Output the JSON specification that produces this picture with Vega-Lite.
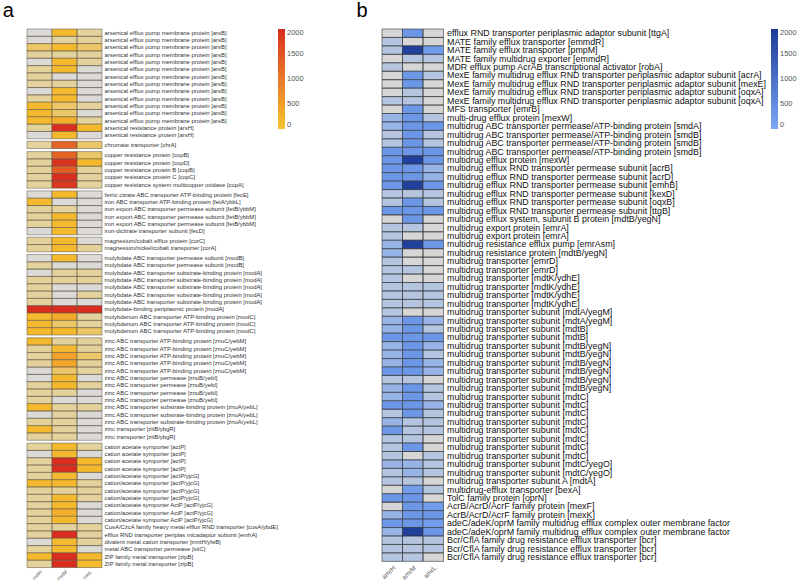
{
  "$schema": "https://vega.github.io/schema/vega-lite/v6.json",
  "padding": {"left": 2, "top": 0, "right": 0, "bottom": 0},
  "background": "white",
  "config": {
    "font": "Liberation Sans",
    "view": {"stroke": null},
    "axis": {"domain": false, "ticks": false, "grid": false, "title": null, "labelOverlap": false, "labelLimit": 400},
    "title": {"font": "Liberation Sans", "fontWeight": "normal", "fontSize": 20, "anchor": "start", "color": "#000"}
  },
  "datasets": {
    "a": [
      {"g":"ars","k":"01|arsenical efflux pump membrane protein [arsB]","metH":0,"metM":150,"metL":40},
      {"g":"ars","k":"02|arsenical efflux pump membrane protein [arsB]","metH":0,"metM":40,"metL":40},
      {"g":"ars","k":"03|arsenical efflux pump membrane protein [arsB]","metH":100,"metM":150,"metL":100},
      {"g":"ars","k":"04|arsenical efflux pump membrane protein [arsB]","metH":40,"metM":40,"metL":40},
      {"g":"ars","k":"05|arsenical efflux pump membrane protein [arsB]","metH":0,"metM":150,"metL":40},
      {"g":"ars","k":"06|arsenical efflux pump membrane protein [arsB]","metH":40,"metM":150,"metL":0},
      {"g":"ars","k":"07|arsenical efflux pump membrane protein [arsB]","metH":40,"metM":0,"metL":0},
      {"g":"ars","k":"08|arsenical efflux pump membrane protein [arsB]","metH":40,"metM":40,"metL":0},
      {"g":"ars","k":"09|arsenical efflux pump membrane protein [arsB]","metH":0,"metM":150,"metL":0},
      {"g":"ars","k":"10|arsenical efflux pump membrane protein [arsB]","metH":40,"metM":150,"metL":0},
      {"g":"ars","k":"11|arsenical efflux pump membrane protein [arsB]","metH":150,"metM":100,"metL":40},
      {"g":"ars","k":"12|arsenical efflux pump membrane protein [arsB]","metH":150,"metM":100,"metL":0},
      {"g":"ars","k":"13|arsenical efflux pump membrane protein [arsB]","metH":150,"metM":300,"metL":40},
      {"g":"ars","k":"14|arsenical resistance protein [arsH]","metH":40,"metM":1950,"metL":150},
      {"g":"ars","k":"15|arsenical resistance protein [arsH]","metH":0,"metM":150,"metL":0},
      {"g":"chr","k":"16|chromate transporter [chrA]","metH":40,"metM":1300,"metL":100},
      {"g":"cop","k":"17|copper resistance protein [copB]","metH":40,"metM":1300,"metL":100},
      {"g":"cop","k":"18|copper resistance protein [copD]","metH":40,"metM":1900,"metL":150},
      {"g":"cop","k":"19|copper resistance protein B [copB]","metH":40,"metM":1400,"metL":40},
      {"g":"cop","k":"20|copper resistance protein C [copC]","metH":40,"metM":1950,"metL":40},
      {"g":"cop","k":"21|copper resistance system multicopper oxidase [copA]","metH":40,"metM":1850,"metL":40},
      {"g":"fe","k":"22|ferric citrate ABC transporter ATP-binding protein [fecE]","metH":0,"metM":150,"metL":0},
      {"g":"fe","k":"23|iron ABC transporter ATP-binding protein [fetA/ybbL]","metH":150,"metM":0,"metL":0},
      {"g":"fe","k":"24|iron export ABC transporter permease subunit [fetB/ybbM]","metH":40,"metM":40,"metL":0},
      {"g":"fe","k":"25|iron export ABC transporter permease subunit [fetB/ybbM]","metH":40,"metM":150,"metL":0},
      {"g":"fe","k":"26|iron export ABC transporter permease subunit [fetB/ybbM]","metH":40,"metM":150,"metL":0},
      {"g":"fe","k":"27|iron-dicitrate transporter subunit [fecD]","metH":0,"metM":150,"metL":0},
      {"g":"mg","k":"28|magnesium/cobalt efflux protein [corC]","metH":40,"metM":150,"metL":0},
      {"g":"mg","k":"29|magnesium/nickel/cobalt transporter [corA]","metH":40,"metM":150,"metL":40},
      {"g":"mo","k":"30|molybdate ABC transporter permease subunit [modB]","metH":0,"metM":150,"metL":0},
      {"g":"mo","k":"31|molybdate ABC transporter permease subunit [modB]","metH":40,"metM":0,"metL":0},
      {"g":"mo","k":"32|molybdate ABC transporter substrate-binding protein [modA]","metH":0,"metM":40,"metL":40},
      {"g":"mo","k":"33|molybdate ABC transporter substrate-binding protein [modA]","metH":40,"metM":40,"metL":40},
      {"g":"mo","k":"34|molybdate ABC transporter substrate-binding protein [modA]","metH":40,"metM":0,"metL":0},
      {"g":"mo","k":"35|molybdate ABC transporter substrate-binding protein [modA]","metH":40,"metM":0,"metL":40},
      {"g":"mo","k":"36|molybdate ABC transporter substrate-binding protein [modA]","metH":40,"metM":0,"metL":0},
      {"g":"mo","k":"37|molybdate-binding periplasmic protein [modA]","metH":1950,"metM":1950,"metL":1950},
      {"g":"mo","k":"38|molybdenum ABC transporter ATP-binding protein [modC]","metH":150,"metM":350,"metL":40},
      {"g":"mo","k":"39|molybdenum ABC transporter ATP-binding protein [modC]","metH":150,"metM":100,"metL":40},
      {"g":"mo","k":"40|molybdenum ABC transporter ATP-binding protein [modC]","metH":150,"metM":150,"metL":100},
      {"g":"zn","k":"41|zinc ABC transporter ATP-binding protein [znuC/yebM]","metH":150,"metM":40,"metL":40},
      {"g":"zn","k":"42|zinc ABC transporter ATP-binding protein [znuC/yebM]","metH":40,"metM":150,"metL":40},
      {"g":"zn","k":"43|zinc ABC transporter ATP-binding protein [znuC/yebM]","metH":40,"metM":450,"metL":100},
      {"g":"zn","k":"44|zinc ABC transporter ATP-binding protein [znuC/yebM]","metH":40,"metM":400,"metL":40},
      {"g":"zn","k":"45|zinc ABC transporter ATP-binding protein [znuC/yebM]","metH":0,"metM":100,"metL":40},
      {"g":"zn","k":"46|zinc ABC transporter permease [znuB/yebI]","metH":0,"metM":150,"metL":0},
      {"g":"zn","k":"47|zinc ABC transporter permease [znuB/yebI]","metH":40,"metM":150,"metL":40},
      {"g":"zn","k":"48|zinc ABC transporter permease [znuB/yebI]","metH":40,"metM":40,"metL":0},
      {"g":"zn","k":"49|zinc ABC transporter permease [znuB/yebI]","metH":40,"metM":0,"metL":0},
      {"g":"zn","k":"50|zinc ABC transporter substrate-binding protein [znuA/yebL]","metH":150,"metM":40,"metL":40},
      {"g":"zn","k":"51|zinc ABC transporter substrate-binding protein [znuA/yebL]","metH":0,"metM":40,"metL":0},
      {"g":"zn","k":"52|zinc ABC transporter substrate-binding protein [znuA/yebL]","metH":40,"metM":40,"metL":0},
      {"g":"zn","k":"53|zinc transporter [zitB/ybgR]","metH":150,"metM":40,"metL":0},
      {"g":"zn","k":"54|zinc transporter [zitB/ybgR]","metH":40,"metM":40,"metL":0},
      {"g":"ot","k":"55|cation acetate symporter [actP]","metH":40,"metM":150,"metL":40},
      {"g":"ot","k":"56|cation acetate symporter [actP]","metH":0,"metM":150,"metL":0},
      {"g":"ot","k":"57|cation acetate symporter [actP]","metH":40,"metM":1950,"metL":150},
      {"g":"ot","k":"58|cation acetate symporter [actP]","metH":40,"metM":1950,"metL":150},
      {"g":"ot","k":"59|cation/acetate symporter [actP/yjcG]","metH":40,"metM":150,"metL":0},
      {"g":"ot","k":"60|cation/acetate symporter [actP/yjcG]","metH":150,"metM":150,"metL":40},
      {"g":"ot","k":"61|cation/acetate symporter [actP/yjcG]","metH":40,"metM":40,"metL":40},
      {"g":"ot","k":"62|cation/acetate symporter [actP/yjcG]","metH":40,"metM":150,"metL":40},
      {"g":"ot","k":"63|cation/acetate symporter ActP [actP/yjcG]","metH":40,"metM":150,"metL":0},
      {"g":"ot","k":"64|cation/acetate symporter ActP [actP/yjcG]","metH":40,"metM":300,"metL":0},
      {"g":"ot","k":"65|cation/acetate symporter ActP [actP/yjcG]","metH":40,"metM":150,"metL":0},
      {"g":"ot","k":"66|CusA/CzcA family heavy metal efflux RND transporter [cusA/ybdE]","metH":40,"metM":40,"metL":40},
      {"g":"ot","k":"67|efflux RND transporter periplas micadaptor subunit [emhA]","metH":40,"metM":1950,"metL":40},
      {"g":"ot","k":"68|divalent metal cation transporter [mntH/yfeB]","metH":0,"metM":150,"metL":40},
      {"g":"ot","k":"69|metal ABC transporter permease [sitC]","metH":40,"metM":150,"metL":0},
      {"g":"ot","k":"70|ZIP family metal transporter [zipB]","metH":150,"metM":1950,"metL":150},
      {"g":"ot","k":"71|ZIP family metal transporter [zipB]","metH":40,"metM":1950,"metL":150}
    ],
    "b": [
      {"k":"01|efflux RND transporter periplasmic adaptor subunit [ttgA]","amrH":0,"amrM":300,"amrL":0},
      {"k":"02|MATE family efflux transporter [emmdR]","amrH":40,"amrM":0,"amrL":0},
      {"k":"03|MATE family efflux transporter [pmpM]","amrH":40,"amrM":1900,"amrL":200},
      {"k":"04|MATE family multidrug exporter [emmdR]","amrH":0,"amrM":40,"amrL":40},
      {"k":"05|MDR efflux pump AcrAB transcriptional activator [robA]","amrH":40,"amrM":0,"amrL":0},
      {"k":"06|MexE family multidrug efflux RND transporter periplasmic adaptor subunit [acrA]","amrH":0,"amrM":300,"amrL":40},
      {"k":"07|MexE family multidrug efflux RND transporter periplasmic adaptor subunit [mexE]","amrH":0,"amrM":300,"amrL":0},
      {"k":"08|MexE family multidrug efflux RND transporter periplasmic adaptor subunit [oqxA]","amrH":0,"amrM":40,"amrL":0},
      {"k":"09|MexE family multidrug efflux RND transporter periplasmic adaptor subunit [oqxA]","amrH":40,"amrM":40,"amrL":0},
      {"k":"10|MFS transporter [emrB]","amrH":0,"amrM":300,"amrL":0},
      {"k":"11|multi-drug efflux protein [mexW]","amrH":100,"amrM":300,"amrL":40},
      {"k":"12|multidrug ABC transporter permease/ATP-binding protein [smdA]","amrH":100,"amrM":300,"amrL":300},
      {"k":"13|multidrug ABC transporter permease/ATP-binding protein [smdB]","amrH":40,"amrM":300,"amrL":40},
      {"k":"14|multidrug ABC transporter permease/ATP-binding protein [smdB]","amrH":40,"amrM":300,"amrL":40},
      {"k":"15|multidrug ABC transporter permease/ATP-binding protein [smdB]","amrH":300,"amrM":300,"amrL":300},
      {"k":"16|multidrug efflux protein [mexW]","amrH":300,"amrM":1900,"amrL":300},
      {"k":"17|multidrug efflux RND transporter permease subunit [acrB]","amrH":300,"amrM":300,"amrL":100},
      {"k":"18|multidrug efflux RND transporter permease subunit [acrD]","amrH":300,"amrM":300,"amrL":100},
      {"k":"19|multidrug efflux RND transporter permease subunit [emhB]","amrH":300,"amrM":1900,"amrL":300},
      {"k":"20|multidrug efflux RND transporter permease subunit [kexD]","amrH":40,"amrM":40,"amrL":40},
      {"k":"21|multidrug efflux RND transporter permease subunit [oqxB]","amrH":40,"amrM":300,"amrL":40},
      {"k":"22|multidrug efflux RND transporter permease subunit [ttgB]","amrH":300,"amrM":300,"amrL":300},
      {"k":"23|multidrug efflux system, subunit B protein [mdtB/yegN]","amrH":0,"amrM":300,"amrL":0},
      {"k":"24|multidrug export protein [emrA]","amrH":40,"amrM":40,"amrL":0},
      {"k":"25|multidrug export protein [emrA]","amrH":40,"amrM":0,"amrL":0},
      {"k":"26|multidrug resistance efflux pump [emrAsm]","amrH":100,"amrM":1900,"amrL":300},
      {"k":"27|multidrug resistance protein [mdtB/yegN]","amrH":100,"amrM":0,"amrL":0},
      {"k":"28|multidrug transporter [emrD]","amrH":40,"amrM":0,"amrL":0},
      {"k":"29|multidrug transporter [emrD]","amrH":40,"amrM":40,"amrL":0},
      {"k":"30|multidrug transporter [mdtK/ydhE]","amrH":40,"amrM":0,"amrL":0},
      {"k":"31|multidrug transporter [mdtK/ydhE]","amrH":40,"amrM":40,"amrL":40},
      {"k":"32|multidrug transporter [mdtK/ydhE]","amrH":40,"amrM":40,"amrL":40},
      {"k":"33|multidrug transporter [mdtK/ydhE]","amrH":40,"amrM":40,"amrL":40},
      {"k":"34|multidrug transporter subunit [mdtA/yegM]","amrH":40,"amrM":0,"amrL":0},
      {"k":"35|multidrug transporter subunit [mdtA/yegM]","amrH":100,"amrM":300,"amrL":100},
      {"k":"36|multidrug transporter subunit [mdtB]","amrH":100,"amrM":300,"amrL":40},
      {"k":"37|multidrug transporter subunit [mdtB]","amrH":300,"amrM":300,"amrL":300},
      {"k":"38|multidrug transporter subunit [mdtB/yegN]","amrH":100,"amrM":300,"amrL":100},
      {"k":"39|multidrug transporter subunit [mdtB/yegN]","amrH":100,"amrM":300,"amrL":40},
      {"k":"40|multidrug transporter subunit [mdtB/yegN]","amrH":100,"amrM":300,"amrL":100},
      {"k":"41|multidrug transporter subunit [mdtB/yegN]","amrH":300,"amrM":300,"amrL":100},
      {"k":"42|multidrug transporter subunit [mdtB/yegN]","amrH":40,"amrM":40,"amrL":0},
      {"k":"43|multidrug transporter subunit [mdtB/yegN]","amrH":100,"amrM":300,"amrL":40},
      {"k":"44|multidrug transporter subunit [mdtC]","amrH":100,"amrM":300,"amrL":40},
      {"k":"45|multidrug transporter subunit [mdtC]","amrH":300,"amrM":300,"amrL":100},
      {"k":"46|multidrug transporter subunit [mdtC]","amrH":40,"amrM":300,"amrL":40},
      {"k":"47|multidrug transporter subunit [mdtC]","amrH":100,"amrM":40,"amrL":40},
      {"k":"48|multidrug transporter subunit [mdtC]","amrH":300,"amrM":40,"amrL":40},
      {"k":"49|multidrug transporter subunit [mdtC]","amrH":40,"amrM":40,"amrL":0},
      {"k":"50|multidrug transporter subunit [mdtC]","amrH":40,"amrM":300,"amrL":0},
      {"k":"51|multidrug transporter subunit [mdtC]","amrH":40,"amrM":0,"amrL":40},
      {"k":"52|multidrug transporter subunit [mdtC/yegO]","amrH":100,"amrM":100,"amrL":40},
      {"k":"53|multidrug transporter subunit [mdtC/yegO]","amrH":40,"amrM":100,"amrL":40},
      {"k":"54|multidrug transporter subunit A [mdtA]","amrH":40,"amrM":40,"amrL":0},
      {"k":"55|multidrug-efflux transporter [bexA]","amrH":0,"amrM":200,"amrL":40},
      {"k":"56|TolC family protein [oprN]","amrH":300,"amrM":300,"amrL":0},
      {"k":"57|AcrB/AcrD/AcrF family protein [mexF]","amrH":0,"amrM":300,"amrL":200},
      {"k":"58|AcrB/AcrD/AcrF family protein [mexK]","amrH":100,"amrM":300,"amrL":300},
      {"k":"59|adeC/adeK/oprM family multidrug efflux complex outer membrane factor","amrH":300,"amrM":300,"amrL":200},
      {"k":"60|adeC/adeK/oprM family multidrug efflux complex outer membrane factor","amrH":100,"amrM":1900,"amrL":300},
      {"k":"61|Bcr/CflA family drug resistance efflux transporter [bcr]","amrH":40,"amrM":40,"amrL":40},
      {"k":"62|Bcr/CflA family drug resistance efflux transporter [bcr]","amrH":40,"amrM":40,"amrL":40},
      {"k":"63|Bcr/CflA family drug resistance efflux transporter [bcr]","amrH":40,"amrM":40,"amrL":0}
    ]
  },
  "hconcat": [
    {
      "data": {"name": "a"},
      "title": {"text": "a", "dx": -24, "offset": 8},
      "transform": [{"fold": ["metH", "metM", "metL"], "as": ["c", "v"]}],
      "facet": {"row": {"field": "g", "type": "nominal", "header": null, "sort": ["ars", "chr", "cop", "fe", "mg", "mo", "zn", "ot"]}},
      "spacing": {"row": 2.3},
      "bounds": "flush",
      "resolve": {"scale": {"y": "independent"}},
      "spec": {
        "width": 75,
        "height": {"step": 7.32},
        "encoding": {
          "x": {"field": "c", "type": "nominal", "sort": ["metH", "metM", "metL"], "scale": {"paddingInner": 0, "paddingOuter": 0}, "axis": {"labelAngle": -45, "labelFontSize": 4.8, "labelColor": "#555", "labelPadding": 1}},
          "y": {"field": "k", "type": "nominal", "scale": {"paddingInner": 0, "paddingOuter": 0}, "axis": {"orient": "right", "labelExpr": "substring(datum.value, indexof(datum.value, '|') + 1)", "labelFontSize": 5.9, "labelColor": "#333", "labelPadding": 2}}
        },
        "layer": [
          {"mark": {"type": "rect", "fill": "#dbdad6"}},
          {
            "mark": {"type": "rect", "stroke": "#5a5248", "strokeWidth": 0.5},
            "encoding": {
              "color": {"field": "v", "type": "quantitative", "scale": {"domain": [0, 1000, 2000], "range": ["#f5c531", "#e7782c", "#d8281f"]}, "legend": {"title": null, "gradientLength": 100, "gradientThickness": 7, "labelFontSize": 7.5, "labelColor": "#555", "values": [0, 500, 1000, 1500, 2000], "format": "d", "gradientStrokeWidth": 0, "offset": 0}},
              "fillOpacity": {"field": "v", "type": "quantitative", "scale": {"type": "threshold", "domain": [1, 60, 120], "range": [0, 0.35, 0.65, 1]}, "legend": null}
            }
          }
        ]
      }
    },
    {
      "data": {"name": "b"},
      "title": {"text": "b", "dx": -24, "offset": 8},
      "transform": [{"fold": ["amrH", "amrM", "amrL"], "as": ["c", "v"]}],
      "width": 61.5,
      "height": {"step": 8.45},
      "encoding": {
        "x": {"field": "c", "type": "nominal", "sort": ["amrH", "amrM", "amrL"], "scale": {"paddingInner": 0, "paddingOuter": 0}, "axis": {"labelAngle": -45, "labelFontSize": 6.5, "labelColor": "#555", "labelPadding": 3}},
        "y": {"field": "k", "type": "nominal", "scale": {"paddingInner": 0, "paddingOuter": 0}, "axis": {"orient": "right", "labelExpr": "substring(datum.value, indexof(datum.value, '|') + 1)", "labelFontSize": 8.9, "labelColor": "#111", "labelPadding": 3}}
      },
      "layer": [
        {"mark": {"type": "rect", "fill": "#d6d6d6"}},
        {
          "mark": {"type": "rect", "stroke": "#333", "strokeWidth": 0.6},
          "encoding": {
            "color": {"field": "v", "type": "quantitative", "scale": {"domain": [0, 2000], "range": ["#7ba8f4", "#1b3b97"]}, "legend": {"title": null, "gradientLength": 100, "gradientThickness": 7, "labelFontSize": 7.5, "labelColor": "#555", "values": [0, 500, 1000, 1500, 2000], "format": "d", "gradientStrokeWidth": 0, "offset": 5}},
            "fillOpacity": {"field": "v", "type": "quantitative", "scale": {"type": "threshold", "domain": [1, 60, 120], "range": [0, 0.35, 0.65, 1]}, "legend": null}
          }
        }
      ]
    }
  ],
  "spacing": 52,
  "resolve": {"scale": {"color": "independent", "fillOpacity": "independent"}, "legend": {"color": "independent"}}
}
